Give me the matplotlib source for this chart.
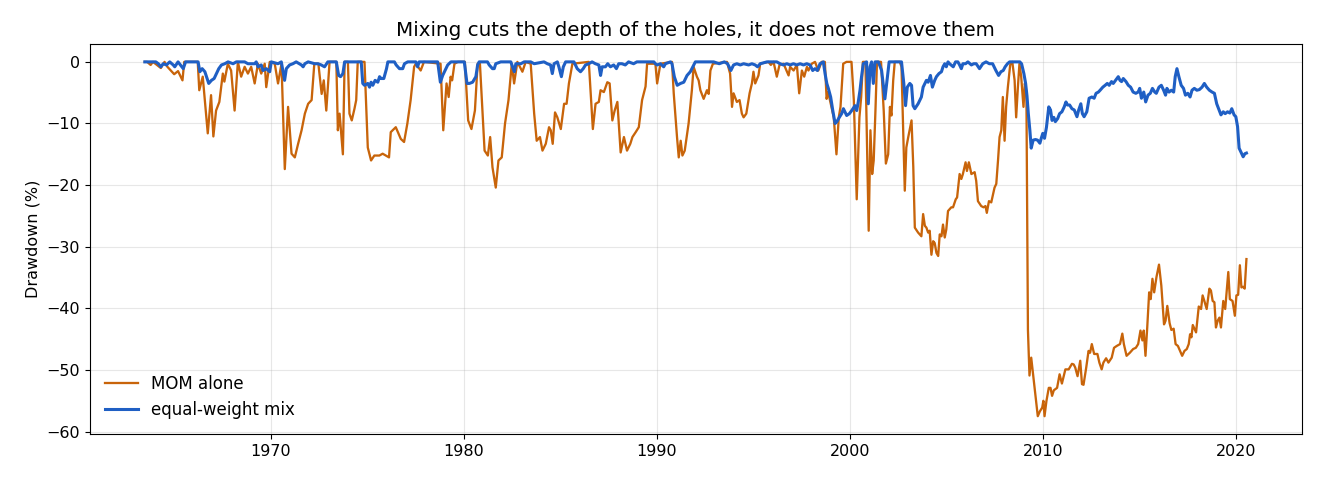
import matplotlib
matplotlib.use("Agg")
import matplotlib.pyplot as plt

# drawdown turning points: (year, drawdown %)
mom = [
    (1963.48, 0), (1963.6, 0), (1963.78, -0.5), (1963.9, 0), (1964.31, -1.0), (1964.5, 0),
    (1964.65, -0.8), (1965.0, -2.0), (1965.2, -1.5), (1965.43, -3.0), (1965.52, 0), (1966.22, 0),
    (1966.30, -4.6), (1966.48, -2.4), (1966.74, -11.6), (1966.91, -5.4), (1967.03, -12.1),
    (1967.17, -7.9), (1967.34, -6.5), (1967.52, -1.9), (1967.60, -3.2), (1967.78, -0.3),
    (1967.95, -1.4), (1968.13, -7.9), (1968.30, 0), (1968.47, -2.4), (1968.65, -0.8),
    (1968.82, -1.9), (1968.99, -0.8), (1969.17, -3.5), (1969.34, -0.3), (1969.51, -1.9),
    (1969.69, -0.3), (1969.77, -4.1), (1969.95, 0), (1970.21, -0.3), (1970.38, -3.5),
    (1970.56, -0.3), (1970.73, -17.4), (1970.90, -7.3), (1971.08, -14.9), (1971.25, -15.5),
    (1971.42, -13.3), (1971.60, -11.1), (1971.77, -8.4), (1971.94, -6.8), (1972.12, -6.2),
    (1972.26, -0.3), (1972.47, -0.3), (1972.64, -5.2), (1972.75, -3.0), (1972.88, -7.9),
    (1973.05, 0), (1973.40, 0), (1973.48, -11.1), (1973.57, -8.4), (1973.74, -15.0),
    (1973.83, 0), (1974.0, 0), (1974.08, -8.4), (1974.2, -9.5), (1974.34, -7.6),
    (1974.43, -6.2), (1974.51, 0), (1974.86, 0), (1975.03, -13.9), (1975.20, -16.0),
    (1975.37, -15.2), (1975.63, -15.2), (1975.80, -14.9), (1976.13, -15.5), (1976.22, -11.4),
    (1976.48, -10.6), (1976.74, -12.5), (1976.91, -13.0), (1977.08, -10.0), (1977.25, -6.2),
    (1977.43, -0.8), (1977.52, -0.3), (1977.77, -1.4), (1977.94, 0), (1978.80, -0.3),
    (1978.94, -11.1), (1979.11, -3.5), (1979.22, -5.7), (1979.32, -2.4), (1979.40, -3.0),
    (1979.52, -0.3), (1979.70, 0), (1980.06, 0), (1980.23, -9.5), (1980.40, -10.9),
    (1980.58, -7.9), (1980.72, -0.3), (1980.84, -0.3), (1981.08, -14.4), (1981.25, -15.2),
    (1981.37, -12.2), (1981.49, -17.1), (1981.66, -20.4), (1981.80, -16.0), (1981.97, -15.5),
    (1982.14, -10.0), (1982.32, -6.2), (1982.49, -0.3), (1982.61, -3.5), (1982.78, 0),
    (1983.04, -1.6), (1983.21, 0), (1983.47, -0.3), (1983.65, -8.4), (1983.78, -12.8),
    (1983.95, -12.2), (1984.08, -14.4), (1984.25, -13.3), (1984.42, -10.6), (1984.51, -11.1),
    (1984.61, -13.3), (1984.73, -8.2), (1984.85, -9.0), (1985.03, -10.9), (1985.20, -6.8),
    (1985.33, -6.8), (1985.45, -3.5), (1985.63, -0.3), (1986.48, 0), (1986.69, -10.9),
    (1986.83, -6.8), (1987.00, -6.5), (1987.09, -4.6), (1987.26, -4.9), (1987.44, -3.3),
    (1987.56, -3.5), (1987.70, -9.5), (1987.82, -7.9), (1987.96, -6.5), (1988.13, -14.7),
    (1988.30, -12.2), (1988.46, -14.4), (1988.63, -13.3), (1988.74, -12.2), (1988.91, -11.4),
    (1989.07, -10.6), (1989.24, -6.2), (1989.42, -4.0), (1989.50, -0.3), (1989.93, -0.3),
    (1990.02, -3.5), (1990.19, -0.3), (1990.79, 0), (1990.88, -5.1), (1991.05, -12.2),
    (1991.14, -15.5), (1991.24, -12.8), (1991.33, -15.2), (1991.45, -14.4), (1991.65, -10.0),
    (1991.82, -4.6), (1991.91, -0.8), (1992.08, -2.4), (1992.17, -3.0), (1992.26, -4.6),
    (1992.43, -6.0), (1992.60, -4.6), (1992.69, -5.2), (1992.78, -1.4), (1992.91, -0.3),
    (1993.64, 0), (1993.80, -1.9), (1993.90, -7.3), (1993.98, -5.1), (1994.15, -6.5),
    (1994.29, -6.2), (1994.41, -8.4), (1994.50, -9.0), (1994.64, -8.4), (1994.81, -5.1),
    (1994.93, -3.5), (1995.01, -1.6), (1995.10, -3.5), (1995.27, -2.2), (1995.36, -0.3),
    (1995.79, 0), (1995.91, -0.5), (1996.05, 0), (1996.22, -2.4), (1996.36, -0.5),
    (1996.57, -0.3), (1996.83, -2.2), (1996.91, -0.8), (1997.09, -1.4), (1997.26, -0.5),
    (1997.38, -5.1), (1997.52, -1.4), (1997.64, -2.4), (1997.78, -0.8), (1997.86, -1.4),
    (1998.03, -0.3), (1998.20, 0), (1998.37, -1.4), (1998.54, 0), (1998.71, 0),
    (1998.80, -6.0), (1998.88, -4.9), (1999.05, -7.3), (1999.17, -9.0), (1999.31, -15.0),
    (1999.43, -9.0), (1999.52, -7.3), (1999.66, -0.3), (1999.83, 0), (2000.09, 0),
    (2000.21, -6.2), (2000.36, -22.3), (2000.50, -9.0), (2000.59, -5.7), (2000.68, 0),
    (2000.81, 0), (2000.98, -27.4), (2001.07, -11.1), (2001.16, -18.2), (2001.24, -16.0),
    (2001.33, -7.9), (2001.41, 0), (2001.62, 0), (2001.76, -8.0), (2001.87, -16.5),
    (2001.99, -15.0), (2002.08, -7.3), (2002.16, -8.7), (2002.25, -3.0), (2002.33, 0),
    (2002.59, 0), (2002.68, -0.8), (2002.85, -20.9), (2002.93, -13.9), (2003.03, -12.2),
    (2003.20, -9.5), (2003.29, -17.0), (2003.37, -26.9), (2003.54, -27.7), (2003.71, -28.3),
    (2003.80, -24.7), (2003.89, -26.6), (2003.97, -26.9), (2004.06, -27.7), (2004.14, -27.4),
    (2004.23, -31.3), (2004.32, -29.1), (2004.40, -29.4), (2004.49, -31.0), (2004.58, -31.5),
    (2004.66, -28.0), (2004.75, -28.3), (2004.83, -26.4), (2004.92, -28.5), (2005.00, -27.2),
    (2005.09, -24.2), (2005.26, -23.6), (2005.35, -23.6), (2005.49, -22.3), (2005.56, -22.0),
    (2005.69, -18.2), (2005.78, -19.0), (2005.86, -18.2), (2006.00, -16.3), (2006.07, -17.7),
    (2006.17, -16.3), (2006.30, -18.2), (2006.47, -17.9), (2006.55, -19.3), (2006.64, -22.6),
    (2006.81, -23.4), (2006.93, -23.6), (2007.03, -23.4), (2007.10, -24.5), (2007.21, -22.6),
    (2007.33, -22.8), (2007.50, -20.4), (2007.59, -19.8), (2007.68, -16.0), (2007.76, -12.2),
    (2007.85, -11.1), (2007.93, -5.7), (2008.02, -12.8), (2008.10, -7.3), (2008.19, -4.1),
    (2008.31, -0.5), (2008.42, 0), (2008.54, -3.0), (2008.62, -9.0), (2008.71, -4.1),
    (2008.79, -0.3), (2008.88, -2.4), (2009.00, -7.3), (2009.07, -3.5), (2009.15, -5.0),
    (2009.23, -43.5), (2009.31, -50.9), (2009.40, -48.0), (2009.48, -50.2), (2009.62, -54.0),
    (2009.74, -57.5), (2009.85, -56.7), (2009.97, -56.1), (2010.03, -55.0), (2010.09, -57.5),
    (2010.19, -55.0), (2010.31, -52.9), (2010.40, -52.9), (2010.48, -54.2), (2010.57, -53.3),
    (2010.74, -52.9), (2010.87, -50.7), (2010.99, -52.2), (2011.17, -49.9), (2011.34, -49.9),
    (2011.51, -49.0), (2011.60, -49.1), (2011.68, -49.6), (2011.80, -51.0), (2011.94, -48.5),
    (2012.03, -52.3), (2012.11, -52.4), (2012.25, -49.6), (2012.37, -46.9), (2012.45, -47.2),
    (2012.54, -45.8), (2012.66, -47.4), (2012.83, -47.4), (2012.93, -48.8), (2013.05, -49.9),
    (2013.14, -48.8), (2013.28, -48.1), (2013.40, -48.8), (2013.57, -48.0), (2013.69, -46.4),
    (2013.83, -46.1), (2014.00, -45.8), (2014.12, -44.1), (2014.20, -45.8), (2014.34, -47.7),
    (2014.51, -47.2), (2014.68, -46.6), (2014.82, -46.4), (2014.94, -45.8), (2015.06, -43.6),
    (2015.16, -45.2), (2015.23, -43.6), (2015.32, -47.7), (2015.41, -43.1), (2015.51, -37.4),
    (2015.59, -38.5), (2015.68, -35.2), (2015.77, -37.4), (2015.89, -34.9), (2016.02, -32.9),
    (2016.14, -36.3), (2016.28, -42.6), (2016.36, -42.0), (2016.45, -39.6), (2016.57, -42.4),
    (2016.66, -43.5), (2016.78, -43.3), (2016.88, -45.8), (2017.00, -46.1), (2017.22, -47.7),
    (2017.34, -46.9), (2017.46, -46.6), (2017.56, -45.8), (2017.63, -44.2), (2017.70, -44.7),
    (2017.77, -42.7), (2017.94, -43.9), (2018.08, -39.7), (2018.20, -40.1), (2018.28, -37.9),
    (2018.37, -38.8), (2018.49, -40.1), (2018.63, -36.8), (2018.71, -37.1), (2018.80, -38.8),
    (2018.89, -39.0), (2018.97, -43.1), (2019.06, -42.0), (2019.15, -41.5), (2019.23, -43.1),
    (2019.35, -38.8), (2019.45, -40.1), (2019.61, -34.1), (2019.69, -38.5), (2019.83, -38.8),
    (2019.95, -41.2), (2020.03, -37.9), (2020.12, -37.8), (2020.21, -33.0), (2020.29, -36.6),
    (2020.38, -36.5), (2020.46, -36.8), (2020.55, -32.0),
]

mix = [
    (1963.48, 0), (1964.05, 0), (1964.18, -0.3), (1964.31, -0.8), (1964.43, -0.3),
    (1964.60, -0.5), (1964.77, 0), (1964.95, -0.5), (1965.03, -0.8), (1965.20, 0),
    (1965.47, -1.1), (1965.59, 0), (1966.24, 0), (1966.33, -1.6), (1966.45, -1.1),
    (1966.59, -1.6), (1966.79, -3.5), (1966.93, -3.0), (1967.07, -2.7), (1967.19, -1.9),
    (1967.31, -1.1), (1967.45, -0.5), (1967.62, -0.3), (1967.79, 0), (1968.05, -0.3),
    (1968.22, 0), (1968.65, 0), (1968.82, -0.3), (1969.17, -0.3), (1969.25, 0),
    (1969.34, -0.8), (1969.51, -0.5), (1969.60, -1.4), (1969.77, -1.1), (1969.95, -1.6),
    (1970.03, 0), (1970.38, -0.3), (1970.55, 0), (1970.72, -3.0), (1970.81, -1.1),
    (1970.98, -0.5), (1971.15, -0.3), (1971.32, 0), (1971.59, -0.5), (1971.68, -0.8),
    (1971.77, -0.3), (1971.94, 0), (1972.28, -0.3), (1972.45, -0.3), (1972.62, -0.5),
    (1972.79, -0.8), (1972.96, 0), (1973.40, 0), (1973.52, -2.2), (1973.62, -2.4),
    (1973.74, -1.9), (1973.83, 0), (1974.69, 0), (1974.77, -3.5), (1974.86, -3.8),
    (1975.03, -3.5), (1975.12, -4.1), (1975.20, -3.3), (1975.29, -3.8), (1975.41, -3.0),
    (1975.55, -3.3), (1975.64, -2.4), (1975.72, -2.7), (1975.86, -2.7), (1976.00, -1.1),
    (1976.07, 0), (1976.41, 0), (1976.50, -0.5), (1976.67, -1.1), (1976.84, -1.1),
    (1976.93, -0.3), (1977.10, 0), (1977.52, 0), (1977.61, -0.8), (1977.69, 0),
    (1978.65, 0), (1978.79, -3.3), (1978.91, -2.2), (1979.03, -1.4), (1979.17, -0.5),
    (1979.34, 0), (1980.03, 0), (1980.17, -3.5), (1980.29, -3.5), (1980.46, -3.3),
    (1980.63, -2.4), (1980.72, -0.5), (1980.80, 0), (1981.23, 0), (1981.32, -0.5),
    (1981.49, -1.1), (1981.58, -1.1), (1981.66, -0.3), (1981.92, 0), (1982.44, 0),
    (1982.62, -1.6), (1982.70, -0.3), (1982.96, -0.3), (1983.13, 0), (1983.47, 0),
    (1983.65, -0.3), (1984.16, 0), (1984.33, -0.3), (1984.50, -0.5), (1984.59, -1.9),
    (1984.68, -0.3), (1984.85, 0), (1984.93, -0.8), (1985.06, -2.4), (1985.16, -0.8),
    (1985.28, 0), (1985.71, 0), (1985.88, -1.1), (1986.05, -1.6), (1986.19, -1.1),
    (1986.31, -0.5), (1986.48, -0.3), (1986.65, 0), (1986.82, -0.3), (1987.00, -0.5),
    (1987.09, -2.2), (1987.17, -0.8), (1987.34, -0.8), (1987.46, -0.3), (1987.60, -0.8),
    (1987.77, -0.5), (1987.91, -1.1), (1988.03, -0.3), (1988.20, -0.3), (1988.37, -0.5),
    (1988.54, 0), (1988.80, -0.3), (1988.97, 0), (1989.85, 0), (1989.93, -0.3),
    (1990.02, -0.5), (1990.19, -0.3), (1990.36, -0.8), (1990.45, -0.3), (1990.71, 0),
    (1990.79, -0.3), (1990.91, -2.4), (1991.06, -3.8), (1991.23, -3.5), (1991.40, -3.3),
    (1991.57, -2.2), (1991.74, -1.6), (1991.92, -0.5), (1992.00, 0), (1992.95, 0),
    (1993.24, -0.3), (1993.50, 0), (1993.67, -0.3), (1993.84, -1.4), (1993.98, -0.5),
    (1994.15, -0.3), (1994.33, -0.5), (1994.50, -0.3), (1994.76, -0.5), (1994.93, -0.3),
    (1995.10, -0.5), (1995.22, -0.8), (1995.36, -0.3), (1995.71, 0), (1996.22, 0),
    (1996.39, -0.3), (1996.56, -0.5), (1996.74, -0.3), (1996.91, -0.5), (1997.08, -0.3),
    (1997.25, -0.5), (1997.43, -0.3), (1997.60, -0.5), (1997.77, -0.3), (1997.94, -0.5),
    (1998.08, -1.4), (1998.20, -1.1), (1998.32, -1.4), (1998.46, -0.3), (1998.63, 0),
    (1998.72, -1.9), (1998.81, -3.5), (1998.89, -4.3), (1999.01, -5.7), (1999.12, -7.9),
    (1999.24, -10.0), (1999.33, -9.7), (1999.46, -9.0), (1999.58, -8.4), (1999.67, -7.6),
    (1999.84, -8.7), (1999.98, -8.4), (2000.10, -7.9), (2000.27, -7.1), (2000.36, -7.9),
    (2000.44, -6.5), (2000.53, -4.6), (2000.61, -2.4), (2000.70, -0.3), (2000.87, 0),
    (2000.96, -6.8), (2001.05, -0.8), (2001.13, 0), (2001.22, -3.5), (2001.31, 0),
    (2001.48, 0), (2001.65, -1.4), (2001.82, -6.0), (2001.91, -3.5), (2002.04, 0),
    (2002.68, 0), (2002.80, -3.5), (2002.89, -7.1), (2002.98, -4.1), (2003.11, -3.5),
    (2003.20, -3.8), (2003.28, -7.1), (2003.37, -7.6), (2003.54, -6.8), (2003.71, -5.7),
    (2003.80, -4.1), (2003.97, -3.0), (2004.06, -3.3), (2004.18, -2.2), (2004.28, -4.1),
    (2004.40, -3.0), (2004.49, -2.4), (2004.62, -1.9), (2004.75, -1.6), (2004.83, -0.8),
    (2004.92, -0.3), (2005.00, -0.8), (2005.09, 0), (2005.17, -0.3), (2005.36, -0.8),
    (2005.48, 0), (2005.60, 0), (2005.69, -0.5), (2005.78, -1.1), (2005.86, -0.3),
    (2006.00, -0.3), (2006.12, 0), (2006.30, -0.5), (2006.42, -0.3), (2006.55, -0.3),
    (2006.72, -1.1), (2006.89, -0.3), (2007.06, 0), (2007.23, -0.3), (2007.40, -0.3),
    (2007.57, -1.4), (2007.71, -2.2), (2007.83, -1.6), (2007.95, -1.4), (2008.05, -0.8),
    (2008.17, -0.3), (2008.28, 0), (2008.81, 0), (2008.90, -0.3), (2009.02, -1.9),
    (2009.11, -3.5), (2009.18, -5.5), (2009.25, -8.4), (2009.33, -11.1), (2009.40, -14.0),
    (2009.50, -12.7), (2009.62, -12.6), (2009.73, -12.7), (2009.85, -13.2), (2009.92, -12.4),
    (2010.00, -11.6), (2010.09, -12.4), (2010.19, -10.6), (2010.31, -7.3), (2010.40, -7.8),
    (2010.48, -9.5), (2010.57, -9.0), (2010.65, -9.7), (2010.77, -9.2), (2010.87, -8.4),
    (2010.99, -8.1), (2011.11, -7.3), (2011.20, -6.5), (2011.28, -7.0), (2011.39, -7.0),
    (2011.51, -7.6), (2011.63, -7.8), (2011.77, -8.9), (2011.86, -7.8), (2011.97, -6.8),
    (2012.05, -8.4), (2012.14, -8.9), (2012.28, -8.1), (2012.40, -5.9), (2012.54, -5.7),
    (2012.66, -5.9), (2012.76, -5.1), (2012.88, -4.9), (2012.97, -4.6), (2013.11, -4.1),
    (2013.23, -3.8), (2013.34, -3.5), (2013.44, -3.8), (2013.56, -3.2), (2013.65, -3.5),
    (2013.77, -3.0), (2013.91, -2.4), (2014.00, -3.0), (2014.08, -3.2), (2014.17, -2.7),
    (2014.31, -3.2), (2014.43, -3.8), (2014.55, -4.1), (2014.68, -4.9), (2014.82, -5.1),
    (2014.94, -4.9), (2015.02, -4.3), (2015.11, -5.9), (2015.23, -4.9), (2015.33, -6.5),
    (2015.45, -5.4), (2015.57, -5.1), (2015.68, -4.3), (2015.80, -4.9), (2015.88, -5.1),
    (2016.02, -4.1), (2016.14, -3.8), (2016.26, -4.6), (2016.36, -5.4), (2016.43, -4.3),
    (2016.54, -4.9), (2016.66, -4.6), (2016.78, -4.9), (2016.86, -2.4), (2016.95, -1.1),
    (2017.05, -2.4), (2017.17, -3.8), (2017.29, -4.3), (2017.39, -5.4), (2017.51, -5.1),
    (2017.63, -5.7), (2017.73, -4.6), (2017.85, -4.3), (2017.98, -4.6), (2018.11, -4.5),
    (2018.25, -4.1), (2018.37, -3.5), (2018.49, -4.1), (2018.63, -4.6), (2018.77, -4.9),
    (2018.89, -5.1), (2019.01, -6.8), (2019.11, -7.6), (2019.23, -8.6), (2019.35, -8.1),
    (2019.45, -8.4), (2019.57, -8.1), (2019.69, -8.3), (2019.79, -7.6), (2019.91, -8.6),
    (2020.00, -8.9), (2020.09, -10.5), (2020.17, -14.0), (2020.26, -14.6), (2020.38, -15.4),
    (2020.47, -14.9), (2020.55, -14.8),
]

mom_t = [p[0] for p in mom]
mom_dd = [p[1] for p in mom]
mix_t = [p[0] for p in mix]
mix_dd = [p[1] for p in mix]

fig, ax = plt.subplots(figsize=(13.2, 4.8), dpi=100)
fig.subplots_adjust(left=0.068, right=0.986, top=0.908, bottom=0.096)

ax.plot(mom_t, mom_dd, color="#c8640a", lw=1.65, label="MOM alone")
ax.plot(mix_t, mix_dd, color="#1f5fc4", lw=2.2, label="equal-weight mix")

ax.set_title("Mixing cuts the depth of the holes, it does not remove them", fontsize=14.3)
ax.set_ylabel("Drawdown (%)", fontsize=11.5)
ax.tick_params(labelsize=11.5)
ax.grid(True, alpha=0.3)
ax.legend(loc="lower left", frameon=False, fontsize=12)

plt.savefig("out.png")
